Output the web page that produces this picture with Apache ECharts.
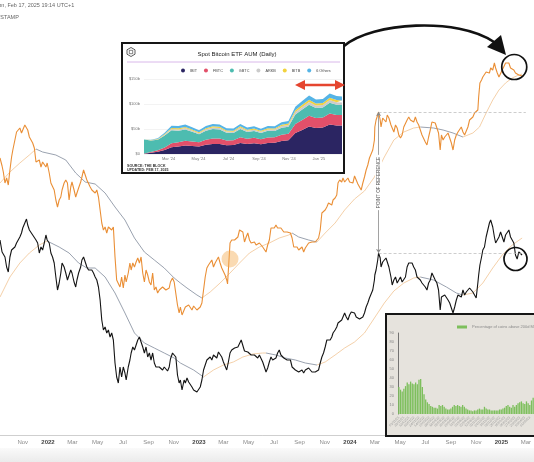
<!DOCTYPE html>
<html><head><meta charset="utf-8">
<script src="https://cdn.jsdelivr.net/npm/echarts@6/dist/echarts.min.js"></script>
<style>html,body{margin:0;padding:0;background:#fff}#c{width:534px;height:462px}</style>
</head><body><div id="c"></div>
<script>
// ---------- main price chart (relative level index) ----------
const startDate = '2021-09-07';
const endDate = '2025-03-01';
const priceDays = [
0,5,8,12,16,20,24,28,31,36, 40,44,48,52,55,60,64,67,71,75, 79,83,87,91,95,99,103,107,111,114,
119,123,127,131,135,139,143,147,150,155, 159,163,167,171,174,179,183,186,190,195, 198,202,206,210,214,218,222,226,230,234,
238,242,246,250,254,258,262,266,270,274, 278,282,286,290,294,298,302,305,310,314, 317,321,325,329,333,337,341,345,349,353,
357,361,365,369,373,377,381,385,388,393, 397,401,405,409,412,417,421,425,429,433, 436,440,445,448,452,456,460,464,468,472,
476,480,484,488,492,496,500,504,508,512, 516,520,524,528,532,536,540,544,548,550, 552,556,560,564,567,571,575,579,583,587,
591,595,599,603,607,611,615,619,623,627, 631,635,639,643,647,651,655,659,663,667, 671,675,679,683,686,690,694,698,702,706,
710,714,718,722,726,730,734,738,742,746, 750,754,758,762,766,770,774,778,782,786, 790,794,798,802,805,810,814,817,821,826,
829,833,837,841,845,849,853,857,861,865, 869,873,877,881,885,889,893,897,901,905, 906,909,913,915,919,921,925,929,933,936,
940,945,948,952,956,960,964,968,972,976, 980,984,988,992,996,1000,1004,1008,1012,1016, 1020,1024,1028,1032,1036,1040,1044,1048,1052,1056,
1060,1064,1066,1067,1071,1075,1079,1083,1087,1091, 1095,1099,1103,1107,1111,1115,1119,1123,1127,1131, 1135,1139,1143,1147,1151,1155,1157,1160,1164,1167,
1171,1175,1179,1183,1186,1191,1195,1198,1202,1206, 1210,1214,1218,1222,1226,1230,1234,1238,1242,1246, 1250,1254,1258,1262
];
const orangeVals = [
277,269,263,252,257,250,265,278,285,295, 303,302,307,302,304,310,312,305,298,295, 292,287,273,272,275,268,273,275,268,272,
262,252,250,245,235,228,235,238,245,252, 255,252,235,248,253,245,238,242,247,253, 258,265,263,255,253,248,245,243,242,245,
238,225,212,205,208,202,208,210,205,208, 178,155,153,148,158,147,160,153,162,172, 165,172,168,173,177,172,178,162,153,165,
160,153,150,162,145,148,142,145,143,148, 150,145,145,147,153,157,153,152,130,122, 128,120,125,128,127,130,128,125,129,127,
125,127,128,132,145,158,167,170,172,175, 168,172,173,178,172,167,165,160,155,151, 165,192,195,193,195,197,198,205,207,203,
193,198,202,195,192,190,193,190,188,192, 192,188,187,183,190,195,207,208,207,210, 207,205,207,205,203,202,203,202,202,197,
188,187,188,185,187,188,183,187,188,192, 193,193,195,193,193,197,205,222,223,225, 228,232,233,230,235,237,240,252,255,253,
257,253,255,257,253,255,252,259,255,251, 248,245,252,258,265,270,277,278,285,295, 308,315,320,323,315,308,317,318,313,320,
317,310,307,303,310,307,300,297,300,308, 310,315,318,315,317,313,318,313,310,305, 300,298,293,290,298,305,313,315,312,307,
302,285,295,300,295,298,298,302,303,292, 285,295,300,303,305,308,303,300,302,308, 315,313,318,322,323,325,338,352,355,358,
360,363,365,362,367,365,372,367,362,358, 360,365,367,372,370,372,367,368,365,362, 361,360,361,359
];
const blackVals = [
195,183,185,178,168,163,178,185,184,188, 192,190,198,202,207,212,216,210,205,207, 200,202,195,192,182,188,185,192,200,195,
192,182,178,172,158,145,152,162,172,168, 162,155,160,165,162,153,148,155,162,168, 175,178,177,168,165,167,165,162,158,155,
148,135,115,105,108,102,105,98,102,95, 72,58,52,68,58,68,62,55,68,75, 82,88,85,90,95,98,100,88,82,88,
78,82,75,82,72,68,70,68,70,65, 68,66,64,68,76,82,84,78,60,52, 55,45,55,52,57,53,55,48,45,46,
43,45,48,55,65,70,75,73,78,75, 80,82,77,83,85,78,73,72,65,63, 73,82,85,83,87,85,88,90,95,97,
84,85,83,82,80,78,80,78,77,80, 78,73,72,63,67,73,78,75,73,77, 82,85,80,78,77,78,75,73,75,68,
67,65,67,63,65,65,62,65,63,67, 65,63,62,63,62,65,72,78,82,88, 95,97,95,98,102,105,108,112,110,115,
118,122,118,115,120,123,122,122,118,116, 116,115,118,122,128,132,137,138,145,155, 160,165,175,182,177,168,173,172,177,175,
168,158,150,155,158,152,155,158,153,155, 158,168,172,170,172,168,165,158,157,155, 152,150,148,145,152,155,162,163,155,152,
145,125,133,138,137,140,138,135,132,127, 122,128,135,140,142,138,145,140,143,145, 147,145,143,142,137,152,160,170,178,185,
188,198,205,212,215,208,198,192,195,198, 203,198,193,200,202,205,198,195,192,180, 176,183,182,180
];
const orangeMaDays = [0,24,48,71,87,103,135,159,183,206,230,254,278,302,325,349,373,397,421,436,452,476,488,508,532,556,579,603,627,651,675,698,706,722,746,766,786,810,833,857,881,905,929,952,976,1000,1016,1048,1071,1095,1119,1143,1159,1175,1191,1206,1222,1238,1254,1262];
const orangeMaVals = [252,263,272,280,286,283,280,275,262,253,251,242,228,215,197,183,175,167,157,152,147,140,137,143,152,162,172,182,188,192,197,200,202,198,195,193,202,212,225,236,244,258,278,295,303,307,308,307,305,302,298,302,308,322,335,345,352,357,360,361];
const blackMaDays = [0,24,48,71,95,114,143,167,190,210,230,254,278,302,325,349,373,397,421,436,468,492,516,540,564,587,611,635,643,667,690,714,738,766,786,810,833,857,881,905,929,952,976,1000,1016,1048,1079,1103,1119,1143,1167,1191,1214,1238,1262];
const blackMaVals = [138,158,172,182,190,194,188,182,172,167,167,158,142,122,102,92,87,82,77,72,65,58,65,70,73,78,81,82,82,80,77,75,72,70,73,80,87,93,102,117,132,144,152,157,158,155,148,142,140,142,152,167,180,190,197];
const orangeMaGraySpans = [[87,488],[706,766],[1016,1119]];
const blackMaGraySpans = [[114,492],[643,766],[1016,1119]];
const refDay = 915, refOrange = 323, refBlack = 182;
const mainTicks = ['2021-11-01','2022-01-01','2022-03-01','2022-05-01','2022-07-01','2022-09-01','2022-11-01','2023-01-01','2023-03-01','2023-05-01','2023-07-01','2023-09-01','2023-11-01','2024-01-01','2024-03-01','2024-05-01','2024-07-01','2024-09-01','2024-11-01','2025-01-01','2025-03-01'];

// ---------- Spot Bitcoin ETF AUM inset ($b) ----------
const etfDates = ['2024-01-11','2024-01-25','2024-02-08','2024-02-22','2024-03-07','2024-03-21','2024-04-04','2024-04-18','2024-05-02','2024-05-16','2024-05-30','2024-06-13','2024-06-27','2024-07-11','2024-07-25','2024-08-08','2024-08-22','2024-09-05','2024-09-19','2024-10-03','2024-10-17','2024-10-31','2024-11-14','2024-11-28','2024-12-12','2024-12-26','2025-01-09','2025-01-23','2025-02-06','2025-02-17'];
const etfNames = ['IBIT','FBTC','GBTC','ARKB','BITB','6 Others'];
const ibit = [0.5,2.5,4.5,8,13.5,15,17,16,15,18.5,20,20,17.5,18,22,20,21.5,19.5,22,22.5,26,27.5,42,48,55,52,53,59,57,57];
const fbtc = [0.4,1.5,2.8,5,8,8.5,9.5,9,8.3,10,11,11,9.6,9.5,11.5,10.5,11,10,11,11.2,12.5,13,18,20,21.5,20,20,22,21,21];
const gbtc = [28,23,21,24,26,23,22.5,19.5,16,18,19,18,15.5,14.5,16.5,13.5,13.5,12.5,13.5,12.5,14,14,19,21,22,20,20,21.5,20.5,20];
const arkb = [0.1,0.4,0.8,1.6,2.6,2.7,2.9,2.6,2.4,2.8,3,3,2.6,2.6,3,2.6,2.7,2.5,2.7,2.8,3.3,3.6,4.8,5.2,5.6,5,5,5.5,5.2,5];
const bitb = [0.1,0.4,0.8,1.3,2,2.1,2.2,2,1.9,2.2,2.3,2.3,2,2,2.4,2.1,2.2,2,2.2,2.2,2.6,2.8,3.8,4.2,4.5,4.1,4.1,4.4,4.1,4];
const others = [0.1,0.8,1.5,2.6,4.5,4.5,4.8,4.2,3.8,4.5,4.8,4.8,4.2,4.2,4.8,4.3,4.5,4.1,4.5,4.5,5,5.2,7,7.8,8.5,8,8,8.5,8.2,8];

// ---------- Percentage of coins above 200d MA inset ----------
const greenName = 'Percentage of coins above 200d MA';
const greenVals = [30,27,25,28,31,35,33,36,34,33,35,33,38,39, 30,22,16,13,11,9,
 8,7,7,6,10,9,10,8,6,5,5,6,8,10,9,10,9,8,10,8,6,5,4,4,3,4,4,5,6,5,5,8,6,5,5,4,4,4,4,4,5,5,6,
 7,9,10,8,7,10,8,10,12,13,14,12,11,14,12,10,15,18];
const greenStart = '2021-11-01';

// ---------- helpers ----------
const DAY = 86400000;
const ts = s => { const p = s.split('-').map(Number); return Date.UTC(p[0], p[1] - 1, p[2]); };
const T0 = ts(startDate);
const toT = d => T0 + d * DAY;
const MON = ['Jan','Feb','Mar','Apr','May','Jun','Jul','Aug','Sep','Oct','Nov','Dec'];
const inSpan = (d, spans, strict) => spans.some(([a, b]) => strict ? (d > a && d < b) : (d >= a && d <= b));
const maSeg = (days, vals, spans, gray) => days.map((d, i) =>
  [toT(d), (gray ? inSpan(d, spans, false) : !inSpan(d, spans, true)) ? vals[i] : '-']);
const greenCats = greenVals.map((_, i) => {
  const d = new Date(ts(greenStart) + i * 7 * DAY);
  return String(d.getUTCDate()).padStart(2, '0') + '/' + String(d.getUTCMonth() + 1).padStart(2, '0') + '/' + String(d.getUTCFullYear()).slice(2);
});

const ORANGE = '#ea8f36', BLACK = '#141414', MA_GRAY = '#8f97a6', MA_TAN = '#f3cb9f';
const FONT = 'Liberation Sans, Arial, sans-serif';
const etfColors = ['#2b2562','#e2506a','#4dbcb0','#cbcbcb','#f2d23e','#55b4e6'];
const etfSeriesData = [ibit, fbtc, gbtc, arkb, bitb, others];

const chart = echarts.init(document.getElementById('c'), null, {renderer: 'canvas'});
const tMax = ts(endDate);

const series = [
  {name: 'orangeMaTan', type: 'line', data: maSeg(orangeMaDays, orangeMaVals, orangeMaGraySpans, false), showSymbol: false, z: 2,
   lineStyle: {color: MA_TAN, width: 0.9}, itemStyle: {color: MA_TAN}, silent: true},
  {name: 'orangeMaGray', type: 'line', data: maSeg(orangeMaDays, orangeMaVals, orangeMaGraySpans, true), showSymbol: false, z: 2,
   lineStyle: {color: MA_GRAY, width: 0.9}, itemStyle: {color: MA_GRAY}, silent: true},
  {name: 'blackMaTan', type: 'line', data: maSeg(blackMaDays, blackMaVals, blackMaGraySpans, false), showSymbol: false, z: 2,
   lineStyle: {color: MA_TAN, width: 0.9}, itemStyle: {color: MA_TAN}, silent: true},
  {name: 'blackMaGray', type: 'line', data: maSeg(blackMaDays, blackMaVals, blackMaGraySpans, true), showSymbol: false, z: 2,
   lineStyle: {color: MA_GRAY, width: 0.9}, itemStyle: {color: MA_GRAY}, silent: true},
  {name: 'orange', type: 'line', data: priceDays.map((d, i) => [toT(d), orangeVals[i]]), showSymbol: false, z: 3,
   lineStyle: {color: ORANGE, width: 1.1}, itemStyle: {color: ORANGE}, silent: true,
   markLine: {silent: true, symbol: 'none', label: {show: false},
     lineStyle: {color: '#b8b8b8', width: 0.7, type: [3, 2]},
     data: [[{coord: [toT(refDay), refOrange]}, {coord: [tMax, refOrange]}]]},
   markPoint: {silent: true, label: {show: false}, data: [
     {coord: [toT(556), 176], symbol: 'circle', symbolSize: 17, itemStyle: {color: 'rgba(244,172,84,0.45)'}},
     {coord: [toT(1243), 368], symbol: 'circle', symbolSize: 25, itemStyle: {color: 'rgba(0,0,0,0)', borderColor: '#111', borderWidth: 1.7}}
   ]}},
  {name: 'black', type: 'line', data: priceDays.map((d, i) => [toT(d), blackVals[i]]), showSymbol: false, z: 3,
   lineStyle: {color: BLACK, width: 1.1}, itemStyle: {color: BLACK}, silent: true,
   markLine: {silent: true, symbol: 'none',
     data: [
       [{coord: [toT(refDay), refBlack], lineStyle: {color: '#b8b8b8', width: 0.7, type: [3, 2]}, label: {show: false}},
        {coord: [tMax, refBlack]}],
       [{coord: [toT(refDay), refBlack], symbol: 'arrow', symbolSize: 4,
         lineStyle: {color: '#8a8a8a', width: 0.8, type: 'solid'},
         label: {show: true, formatter: 'POINT OF REFERENCE', position: 'insideMiddle', fontSize: 4.6, color: '#555',
                 fontFamily: FONT, backgroundColor: '#fff', padding: [1, 2]}},
        {coord: [toT(refDay), refOrange], symbol: 'arrow', symbolSize: 4}]
     ]},
   markPoint: {silent: true, label: {show: false}, data: [
     {coord: [toT(1246), 176], symbol: 'circle', symbolSize: 23, itemStyle: {color: 'rgba(0,0,0,0)', borderColor: '#111', borderWidth: 1.7}}
   ]}}
];
etfNames.forEach((n, k) => series.push({
  name: n, type: 'line', xAxisIndex: 1, yAxisIndex: 1, stack: 'aum', z: 12, silent: true,
  data: etfDates.map((s, i) => [ts(s), etfSeriesData[k][i]]), showSymbol: false,
  lineStyle: {width: 0}, areaStyle: {color: etfColors[k], opacity: 1}, itemStyle: {color: etfColors[k]}
}));
series.push({name: greenName, type: 'bar', xAxisIndex: 2, yAxisIndex: 2, data: greenVals, z: 12, silent: true,
  barCategoryGap: '22%', itemStyle: {color: '#7dbf5c'}});

const txt = (x, y, text, o) => Object.assign({type: 'text', x, y, z: 14, silent: true,
  style: Object.assign({text, fontSize: 5.5, fontFamily: FONT, fill: '#555', align: 'left', verticalAlign: 'middle'}, o || {})});

const option = {
  useUTC: true,
  animation: false,
  backgroundColor: '#fff',
  grid: [
    {left: 0, right: 0, top: 0, bottom: 27},
    {left: 144, top: 79, width: 198, height: 75},
    {left: 398, top: 333, width: 140, height: 81}
  ],
  xAxis: [
    {type: 'value', gridIndex: 0, min: T0, max: tMax, z: 0, scale: true,
     axisLine: {lineStyle: {color: '#cfcfcf', width: 1}}, axisTick: {show: false}, splitLine: {show: false},
     axisLabel: {customValues: mainTicks.map(ts), fontSize: 6, color: '#8c8c8c', fontFamily: FONT, margin: 4,
       formatter: v => { const d = new Date(v); return d.getUTCMonth() === 0 ? '{y|' + d.getUTCFullYear() + '}' : MON[d.getUTCMonth()]; },
       rich: {y: {fontSize: 6, fontWeight: 'bold', color: '#444', fontFamily: FONT}}}},
    {type: 'time', gridIndex: 1, min: ts(etfDates[0]), max: ts(etfDates[etfDates.length - 1]), z: 11, splitNumber: 6,
     axisLine: {show: false}, axisTick: {show: false}, splitLine: {show: false},
     axisLabel: {fontSize: 4, color: '#777', fontFamily: FONT, margin: 3, showMinLabel: false, showMaxLabel: false,
       formatter: v => { const d = new Date(v); return MON[d.getUTCMonth()] + " '" + String(d.getUTCFullYear()).slice(2); }}},
    {type: 'category', gridIndex: 2, data: greenCats, z: 11,
     axisLine: {show: false}, axisTick: {show: false},
     axisLabel: {interval: 2, rotate: 45, fontSize: 3.4, color: '#999', fontFamily: FONT, margin: 3}}
  ],
  yAxis: [
    {type: 'value', gridIndex: 0, min: 0, max: 435, show: false},
    {type: 'value', gridIndex: 1, min: 0, max: 150, interval: 50, z: 11,
     axisLine: {show: false}, axisTick: {show: false},
     splitLine: {lineStyle: {color: '#ebebeb', width: 0.6}},
     axisLabel: {fontSize: 4, color: '#777', fontFamily: FONT, margin: 4, formatter: v => v === 0 ? '$0' : '$' + v + 'b'}},
    {type: 'value', gridIndex: 2, min: 0, max: 90, interval: 10, z: 11,
     axisLine: {show: true, lineStyle: {color: '#555', width: 0.8}}, axisTick: {show: false}, splitLine: {show: false},
     axisLabel: {fontSize: 4, color: '#888', fontFamily: FONT, margin: 4}}
  ],
  legend: [
    {data: etfNames, left: 181, top: 68.5, padding: 0, itemGap: 7, itemWidth: 4, itemHeight: 4, icon: 'circle',
     selectedMode: false, z: 13, textStyle: {fontSize: 3.8, color: '#444', fontFamily: FONT}},
    {data: [greenName], left: 457, top: 325, padding: 0, itemWidth: 10, itemHeight: 3, icon: 'rect',
     selectedMode: false, z: 13, textStyle: {fontSize: 4, color: '#8a8a8a', fontFamily: FONT}}
  ],
  graphic: [
    {type: 'rect', z: -1, silent: true, shape: {x: 0, y: 448, width: 534, height: 14},
     style: {fill: new echarts.graphic.LinearGradient(0, 0, 0, 1, [{offset: 0, color: '#fafafa'}, {offset: 1, color: '#ebebeb'}])}},
    txt(-6.3, 5.5, 'Mon, Feb 17, 2025 19:14 UTC+1', {fontSize: 5.5, fill: '#666'}),
    txt(-8.3, 17, 'BITSTAMP', {fontSize: 5.5, fill: '#666'}),
    {type: 'rect', z: 10, silent: true, shape: {x: 122, y: 43, width: 222, height: 130},
     style: {fill: '#fff', stroke: '#161616', lineWidth: 2}},
    txt(237, 54, 'Spot Bitcoin ETF AUM (Daily)', {fontSize: 6, fill: '#222', align: 'center'}),
    {type: 'line', z: 14, silent: true, shape: {x1: 127, y1: 62, x2: 340, y2: 62}, style: {stroke: '#cfa6e4', lineWidth: 0.8}},
    {type: 'polygon', z: 14, silent: true, shape: {points: [[131, 47.5], [135, 49.8], [135, 54.2], [131, 56.5], [127, 54.2], [127, 49.8]]},
     style: {fill: 'none', stroke: '#333', lineWidth: 0.8}},
    {type: 'rect', z: 14, silent: true, shape: {x: 129.3, y: 50.3, width: 3.4, height: 3.4}, style: {fill: 'none', stroke: '#333', lineWidth: 0.6}},
    txt(127, 166, 'SOURCE: THE BLOCK', {fontSize: 3.6, fontWeight: 'bold', fill: '#333'}),
    txt(127, 169.8, 'UPDATED: FEB 17, 2025', {fontSize: 3.6, fontWeight: 'bold', fill: '#333'}),
    {type: 'line', z: 14, silent: true, shape: {x1: 303, y1: 85, x2: 337, y2: 85}, style: {stroke: '#e5452f', lineWidth: 2.6}},
    {type: 'polygon', z: 14, silent: true, shape: {points: [[295, 85], [305, 80], [305, 90]]}, style: {fill: '#e5452f'}},
    {type: 'polygon', z: 14, silent: true, shape: {points: [[345, 85], [335, 80], [335, 90]]}, style: {fill: '#e5452f'}},
    {type: 'bezierCurve', z: 14, silent: true,
     shape: {x1: 344, y1: 46, cpx1: 372, cpy1: 22, cpx2: 458, cpy2: 17, x2: 494, y2: 42},
     style: {fill: 'none', stroke: '#111', lineWidth: 2.6}},
    {type: 'polygon', z: 14, silent: true, shape: {points: [[506, 55], [487, 47], [501, 35]]}, style: {fill: '#111'}},
    {type: 'rect', z: 10, silent: true, shape: {x: 386, y: 314, width: 160, height: 122},
     style: {fill: '#e6e3dd', stroke: '#161616', lineWidth: 2}}
  ],
  series
};
chart.setOption(option);
</script></body></html>
